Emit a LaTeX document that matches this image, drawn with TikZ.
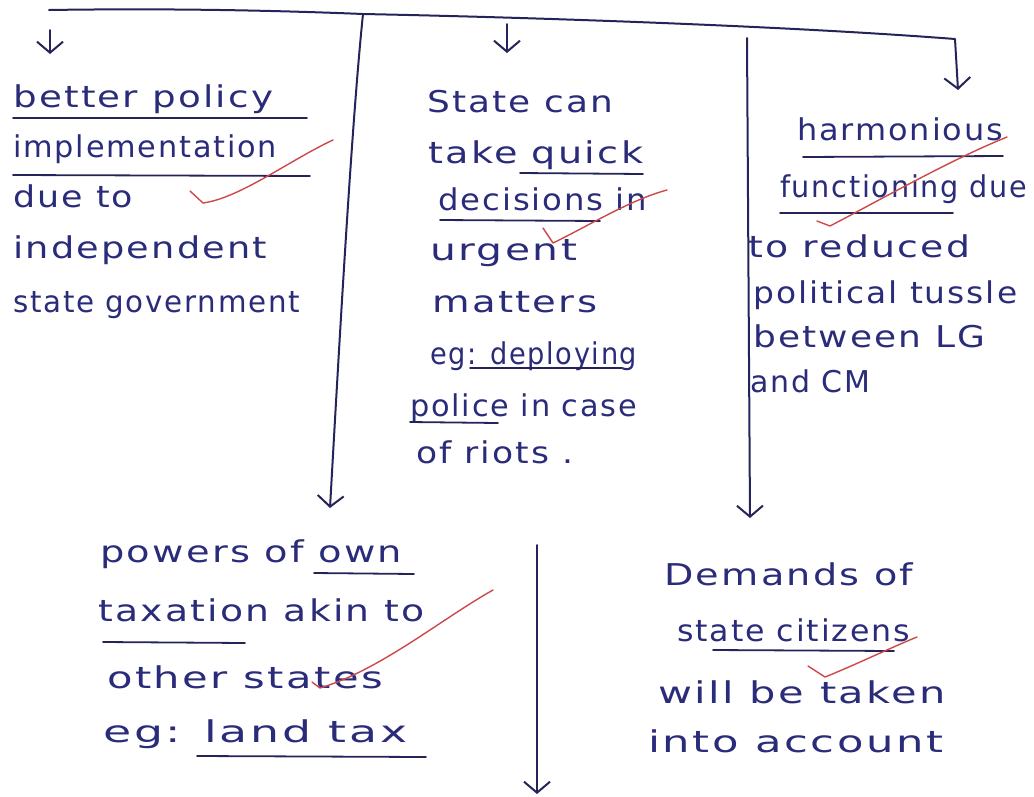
\documentclass[tikz,border=0pt]{standalone}
\usepackage{fontspec}
\usepackage{graphicx}
\newfontfamily\hand[LetterSpace=6]{DejaVu Sans}
\usetikzlibrary{arrows.meta}

\definecolor{ink}{RGB}{42,44,122}
\definecolor{pen}{RGB}{36,36,90}
\definecolor{tick}{RGB}{205,72,72}

% stretch one handwritten line to a given width (in pt), keeping its height
\newcommand{\hw}[2]{\resizebox{#1pt}{\height}{#2}}

\tikzset{
  words/.style={anchor=base west, inner sep=0pt, text=ink,
                font=\hand\fontsize{30}{36}\selectfont},
  rule/.style={draw=pen, line width=1.8pt, line cap=round},
  stroke/.style={draw=pen, line width=2pt, line cap=round, line join=round},
  flow/.style={stroke, -{Straight Barb[length=11pt,width=26pt,line width=2pt]}},
  check/.style={draw=tick, line width=1.4pt, line cap=round, line join=round},
}

\begin{document}
\begin{tikzpicture}[x=1pt,y=-1pt]
\useasboundingbox (0,0) rectangle (1034,796);

% ---------- branching lines ----------
\coordinate (tl) at (49,10);
\coordinate (j1) at (363,14);
\coordinate (tr) at (955,39);
\coordinate (rt) at (958,90);
\coordinate (la0) at (50,30);   \coordinate (la1) at (50,54);
\coordinate (ma0) at (507,24);  \coordinate (ma1) at (507,53);
\coordinate (v1e) at (330,508);
\coordinate (v2s) at (747,38);  \coordinate (v2e) at (750,518);
\coordinate (v3s) at (537,545); \coordinate (v3e) at (537,794);

\draw[flow] (tl) .. controls (180,8) and (290,11) .. (j1)
            .. controls (560,18) and (800,27) .. (tr) -- (rt);
\draw[flow] (la0) -- (la1);
\draw[flow] (ma0) -- (ma1);
\draw[flow] (j1) .. controls (352,120) and (340,330) .. (v1e);
\draw[flow] (v2s) -- (v2e);
\draw[flow] (v3s) -- (v3e);

% ---------- first column ----------
\node[words] (a1) at (13,107) {\hw{260}{better policy}};
\node[words] (a2) at (13,157) {\hw{264}{implementation}};
\node[words] (a3) at (13,207) {\hw{120}{due to}};
\node[words] (a4) at (13,258) {\hw{254}{independent}};
\node[words] (a5) at (13,312) {\hw{287}{state government}};
\draw[rule] (13,118) -- (307,118);
\draw[rule] (13,175) -- (310,176);
\draw[check] (190,191) -- (203,203) .. controls (240,198) and (290,160) .. (333,140);

% ---------- second column ----------
\node[words] (b1) at (427,112) {\hw{186}{State can}};
\node[words] (b2) at (428,163) {\hw{215}{take quick}};
\node[words] (b3) at (438,210) {\hw{209}{decisions in}};
\node[words] (b4) at (430,260) {\hw{147}{urgent}};
\node[words] (b5) at (432,312) {\hw{165}{matters}};
\node[words] (b6) at (430,364) {\hw{207}{eg: deploying}};
\node[words] (b7) at (410,416) {\hw{227}{police in case}};
\node[words] (b8) at (416,463) {\hw{157}{of riots .}};
\draw[rule] (520,173) -- (643,174);
\draw[rule] (440,220) -- (600,221);
\draw[rule] (470,368) -- (622,368);
\draw[rule] (410,422) -- (498,423);
\draw[check] (543,228) -- (553,243) .. controls (590,225) and (630,200) .. (667,190);

% ---------- third column ----------
\node[words] (c1) at (797,140) {\hw{206}{harmonious}};
\node[words] (c2) at (780,197) {\hw{247}{functioning due}};
\node[words] (c3) at (748,257) {\hw{222}{to reduced}};
\node[words] (c4) at (753,303) {\hw{264}{political tussle}};
\node[words] (c5) at (753,347) {\hw{232}{between LG}};
\node[words] (c6) at (750,392) {\hw{120}{and CM}};
\draw[rule] (803,157) -- (1003,156);
\draw[rule] (780,213) -- (953,213);
\draw[check] (817,221) -- (830,226) .. controls (880,200) and (950,160) .. (1007,137);

% ---------- lower left ----------
\node[words] (d1) at (100,562) {\hw{302}{powers of own}};
\node[words] (d2) at (98,621)  {\hw{326}{taxation akin to}};
\node[words] (d3) at (107,688) {\hw{276}{other states}};
\node[words] (d4) at (103,742) {\hw{304}{eg: land tax}};
\draw[rule] (314,573) -- (414,574);
\draw[rule] (103,642) -- (245,643);
\draw[rule] (197,756) -- (426,757);
\draw[check] (312,682) -- (320,688) .. controls (380,670) and (440,620) .. (493,590);

% ---------- lower right ----------
\node[words] (e1) at (664,585) {\hw{249}{Demands of}};
\node[words] (e2) at (677,641) {\hw{233}{state citizens}};
\node[words] (e3) at (658,703) {\hw{288}{will be taken}};
\node[words] (e4) at (648,752) {\hw{295}{into account}};
\draw[rule] (713,650) -- (894,651);
\draw[check] (808,666) -- (825,677) .. controls (855,665) and (890,648) .. (917,637);
\end{tikzpicture}
\end{document}
